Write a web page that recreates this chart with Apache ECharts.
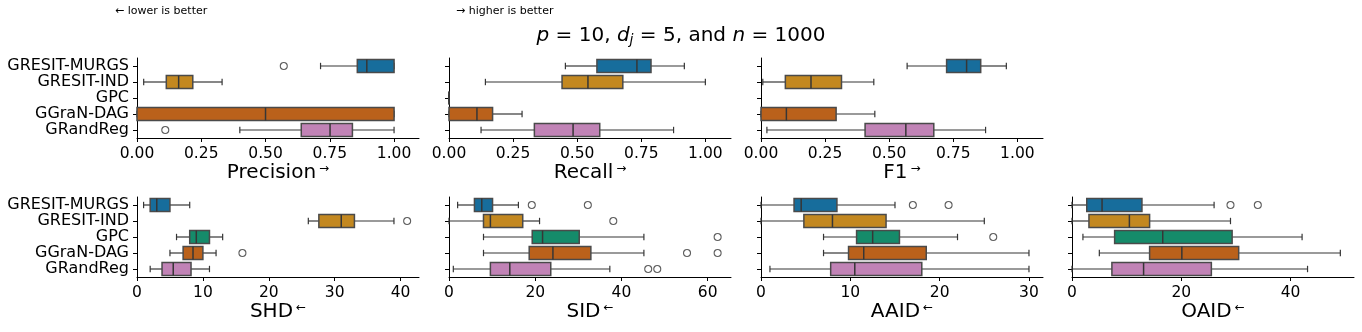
<!DOCTYPE html>
<html>
<head>
<meta charset="utf-8">
<title>Boxplots p=10</title>
<script src="https://cdn.jsdelivr.net/npm/echarts@6/dist/echarts.min.js"></script>
<style>
  html, body { margin: 0; padding: 0; background: #fff; }
  #chart { width: 1362px; height: 332px; }
</style>
</head>
<body>
<div id="chart"></div>
<script>
const categories = ['GRESIT-MURGS', 'GRESIT-IND', 'GPC', 'GGraN-DAG', 'GRandReg'];
const palette = ['#176d9c', '#c38820', '#158b6a', '#ba611b', '#c183b6'];

// each row: [low whisker, Q1, median, Q3, high whisker], null = no box
const precisionBoxes = [[0.714, 0.857, 0.894, 1.0, 1.0], [0.026, 0.114, 0.162, 0.217, 0.331], null, [0, 0, 0.5, 1.0, 1.0], [0.40, 0.639, 0.751, 0.838, 1.0]];
const precisionOutliers = [[0.571, 0], [0.110, 4]];

const recallBoxes = [[0.454, 0.577, 0.733, 0.788, 0.918], [0.142, 0.441, 0.542, 0.678, 1.0], [0, 0, 0, 0, 0], [0, 0, 0.109, 0.170, 0.285], [0.125, 0.333, 0.484, 0.588, 0.876]];
const recallOutliers = [];

const f1Boxes = [[0.570, 0.724, 0.802, 0.857, 0.957], [0.007, 0.095, 0.195, 0.314, 0.440], null, [0, 0, 0.099, 0.293, 0.444], [0.023, 0.406, 0.565, 0.674, 0.876]];
const f1Outliers = [];

const shdBoxes = [[1, 2, 3, 5, 8], [26, 27.6, 31, 33, 39], [6, 8, 9, 11, 13], [5, 7, 8.5, 10, 12], [2, 3.8, 5.5, 8.2, 11]];
const shdOutliers = [[41, 1], [16, 3]];

const sidBoxes = [[2, 5.9, 7.6, 10.1, 16.1], [0, 8, 9.6, 17.1, 21], [8, 19.3, 21.7, 30.2, 45.2], [8, 18.6, 24.1, 32.9, 45.2], [1, 9.6, 14.1, 23.6, 37.3]];
const sidOutliers = [[19.2, 0], [32.2, 0], [38.1, 1], [62.3, 2], [55.2, 3], [62.3, 3], [46.2, 4], [48.3, 4]];

const aaidBoxes = [[0, 3.7, 4.5, 8.5, 15], [0, 4.8, 8, 14, 25], [7, 10.7, 12.5, 15.5, 22], [7, 9.8, 11.5, 18.5, 30], [1, 7.8, 10.5, 18, 30]];
const aaidOutliers = [[17, 0], [21, 0], [26, 2]];

const oaidBoxes = [[0, 2.7, 5.5, 12.8, 26], [0, 3.1, 10.5, 14.2, 29], [2, 7.8, 16.6, 29.3, 42.1], [5, 14.2, 20.1, 30.5, 49.1], [0, 7.3, 13.1, 25.5, 43.1]];
const oaidOutliers = [[29, 0], [34, 0]];

const unitTicks = [0, 0.25, 0.5, 0.75, 1.0];
const shdTicks = [0, 10, 20, 30, 40];
const sidTicks = [0, 20, 40, 60];
const aaidTicks = [0, 10, 20, 30];
const oaidTicks = [0, 20, 40];

const FONT = 'DejaVu Sans';
const EDGE = '#363636';

const panels = [
  { name: 'Precision', arrow: '→', boxes: precisionBoxes, outliers: precisionOutliers, ticks: unitTicks, max: 1.097, dec: 2, left: 137, top: 58, labels: true },
  { name: 'Recall', arrow: '→', boxes: recallBoxes, outliers: recallOutliers, ticks: unitTicks, max: 1.1, dec: 2, left: 449, top: 58, labels: false },
  { name: 'F1', arrow: '→', boxes: f1Boxes, outliers: f1Outliers, ticks: unitTicks, max: 1.1, dec: 2, left: 761, top: 58, labels: false },
  { name: 'SHD', arrow: '←', boxes: shdBoxes, outliers: shdOutliers, ticks: shdTicks, max: 42.8, dec: 0, left: 137, top: 197, labels: true },
  { name: 'SID', arrow: '←', boxes: sidBoxes, outliers: sidOutliers, ticks: sidTicks, max: 65.4, dec: 0, left: 449, top: 197, labels: false },
  { name: 'AAID', arrow: '←', boxes: aaidBoxes, outliers: aaidOutliers, ticks: aaidTicks, max: 31.57, dec: 0, left: 761, top: 197, labels: false },
  { name: 'OAID', arrow: '←', boxes: oaidBoxes, outliers: oaidOutliers, ticks: oaidTicks, max: 51.6, dec: 0, left: 1072, top: 197, labels: false }
];

function renderBox(params, api) {
  const cat = api.value(0);
  const lo = api.coord([api.value(1), cat]);
  const q1 = api.coord([api.value(2), cat]);
  const med = api.coord([api.value(3), cat]);
  const q3 = api.coord([api.value(4), cat]);
  const hi = api.coord([api.value(5), cat]);
  const h = api.size([0, 1])[1] * 0.8;
  const y = q1[1];
  const whisk = { stroke: EDGE, lineWidth: 1.2 };
  return {
    type: 'group',
    children: [
      { type: 'line', shape: { x1: lo[0], y1: y, x2: q1[0], y2: y }, style: whisk },
      { type: 'line', shape: { x1: q3[0], y1: y, x2: hi[0], y2: y }, style: whisk },
      { type: 'line', shape: { x1: lo[0], y1: y - h / 4, x2: lo[0], y2: y + h / 4 }, style: whisk },
      { type: 'line', shape: { x1: hi[0], y1: y - h / 4, x2: hi[0], y2: y + h / 4 }, style: whisk },
      { type: 'rect', shape: { x: q1[0], y: y - h / 2, width: q3[0] - q1[0], height: h },
        style: { fill: palette[cat], stroke: '#4a4a4a', lineWidth: 1.5 } },
      { type: 'line', shape: { x1: med[0], y1: y - h / 2, x2: med[0], y2: y + h / 2 },
        style: { stroke: EDGE, lineWidth: 1.5 } }
    ]
  };
}

const grid = [], xAxis = [], yAxis = [], series = [];
panels.forEach((p, i) => {
  grid.push({ left: p.left, top: p.top, width: 282, height: 80 });
  xAxis.push({
    type: 'value', gridIndex: i, min: 0, max: p.max,
    name: '{n|' + p.name + '}{a|' + p.arrow + '}',
    nameLocation: 'middle', nameGap: 25,
    nameTextStyle: {
      rich: {
        n: { fontFamily: FONT, fontSize: 20, color: '#000' },
        a: { fontFamily: FONT, fontSize: 12, color: '#000', verticalAlign: 'top', padding: [0, 0, 0, 3] }
      }
    },
    axisLine: { show: true, lineStyle: { color: '#000', width: 1 } },
    axisTick: { show: true, length: 4, customValues: p.ticks, lineStyle: { color: '#000' } },
    axisLabel: {
      customValues: p.ticks, margin: 8,
      fontFamily: FONT, fontSize: 15.5, color: '#000',
      formatter: v => v.toFixed(p.dec)
    },
    splitLine: { show: false }
  });
  yAxis.push({
    type: 'category', gridIndex: i, data: categories, inverse: true,
    axisLine: { show: true, lineStyle: { color: '#000', width: 1 } },
    axisTick: { show: true, length: 4, interval: 0, alignWithLabel: true, lineStyle: { color: '#000' } },
    axisLabel: { show: p.labels, interval: 0, margin: 8, fontFamily: FONT, fontSize: 16, color: '#000' },
    splitLine: { show: false }
  });
  const rows = [];
  p.boxes.forEach((b, c) => { if (b) rows.push([c].concat(b)); });
  series.push({
    type: 'custom', xAxisIndex: i, yAxisIndex: i,
    renderItem: renderBox,
    encode: { x: [1, 2, 3, 4, 5], y: 0 },
    data: rows
  });
  series.push({
    type: 'scatter', xAxisIndex: i, yAxisIndex: i,
    symbol: 'circle', symbolSize: 7,
    itemStyle: { color: 'rgba(0,0,0,0)', borderColor: EDGE, borderWidth: 1.1 },
    data: p.outliers
  });
});

const chart = echarts.init(document.getElementById('chart'));
chart.setOption({
  animation: false,
  title: {
    text: '{i|p} = 10, {i|d}{s|j} = 5, and {i|n} = 1000',
    left: 'center', top: 20,
    textStyle: {
      fontFamily: FONT, fontSize: 20, fontWeight: 'normal', color: '#000',
      rich: {
        i: { fontFamily: FONT, fontSize: 20, fontStyle: 'italic', color: '#000' },
        s: { fontFamily: FONT, fontSize: 14, fontStyle: 'italic', color: '#000', verticalAlign: 'bottom', padding: [8, 0, 0, 0] }
      }
    }
  },
  graphic: [
    { type: 'text', left: 115, top: 6, style: { text: '← lower is better', font: '11px "DejaVu Sans"', fill: '#000' } },
    { type: 'text', left: 456, top: 6, style: { text: '→ higher is better', font: '11px "DejaVu Sans"', fill: '#000' } }
  ],
  grid: grid,
  xAxis: xAxis,
  yAxis: yAxis,
  series: series
});
</script>
</body>
</html>
